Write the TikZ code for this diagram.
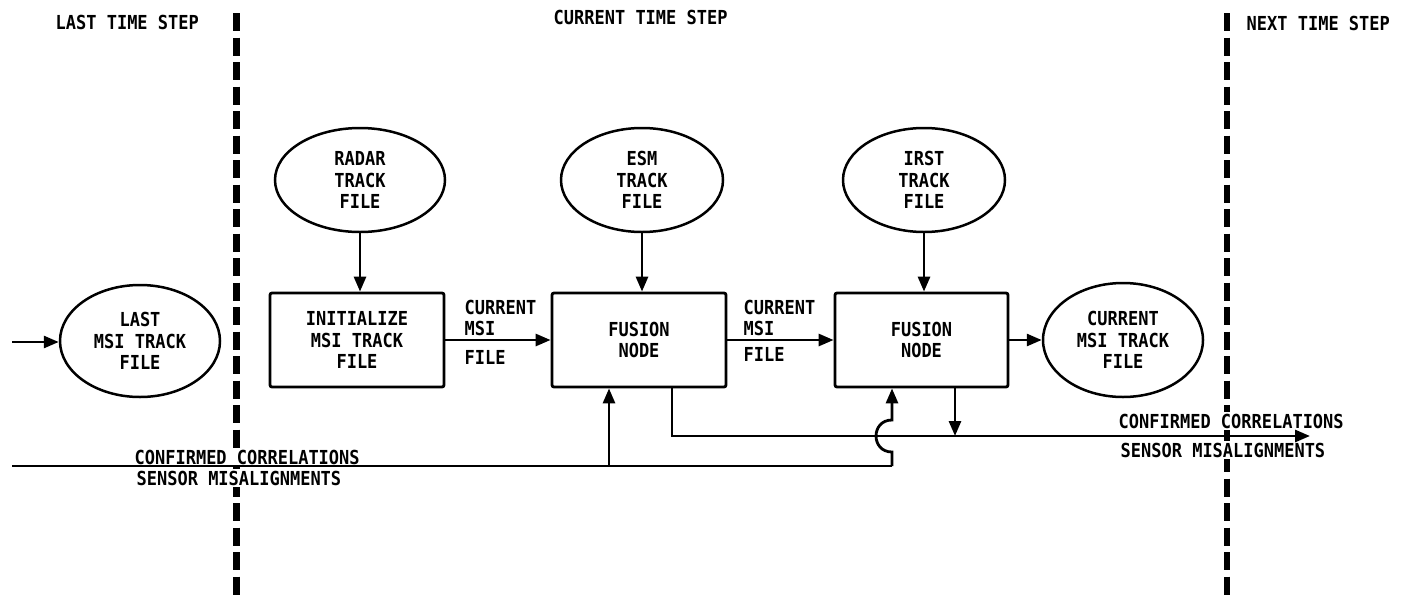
\documentclass[tikz,border=0pt]{standalone}
\usepackage{fontspec}
\setmainfont[FakeStretch=0.88]{DejaVu Sans Mono}
\usetikzlibrary{shapes.geometric,arrows.meta}
\begin{document}
\begin{tikzpicture}[x=1pt,y=-1pt,
  font=\fontsize{19.3}{21.5}\selectfont\bfseries,
  ln/.style={line width=2.8pt},
  arr/.style={ln,-{Triangle[length=15pt,width=12pt]}},
  procbox/.style={draw,line width=2.8pt,rounded corners=2pt,minimum width=174pt,minimum height=94pt,align=center,inner sep=0pt},
  filebub/.style={draw,ellipse,line width=2.5pt,align=center,inner sep=0pt},
  lbl/.style={anchor=west,inner sep=1.5pt},
  wlbl/.style={lbl,fill=white},
  divider/.style={line width=6.5pt,dash pattern=on 18pt off 6.5pt}]
\useasboundingbox (0,0) rectangle (1406,600);
% time step dividers
\coordinate (dlt) at (236.5,13);
\coordinate (dlb) at (236.5,600);
\coordinate (drt) at (1227,13);
\coordinate (drb) at (1227,600);
\draw[divider] (dlt) -- (dlb);
\draw[divider] (drt) -- (drb);
% headings
\node[lbl] (hlast) at (54,22) {LAST TIME STEP};
\node[lbl] (hcur) at (552,17) {CURRENT TIME STEP};
\node[lbl] (hnext) at (1245,23) {NEXT TIME STEP};
% bottom labels
\node[wlbl] (lconf) at (133,457) {CONFIRMED CORRELATIONS};
\node[wlbl] (lsens) at (135,478) {SENSOR MISALIGNMENTS};
\node[wlbl] (rconf) at (1117,421) {CONFIRMED CORRELATIONS};
\node[wlbl] (rsens) at (1119,450) {SENSOR MISALIGNMENTS};
% arrow labels
\node[lbl] (c1a) at (463,307) {CURRENT};
\node[lbl] (c1b) at (463,328) {MSI};
\node[lbl] (c1c) at (463,357) {FILE};
\node[lbl] (c2a) at (742,307) {CURRENT};
\node[lbl] (c2b) at (742,328) {MSI};
\node[lbl] (c2c) at (742,354) {FILE};
% files
\node[filebub,minimum width=160pt,minimum height=112pt] (last) at (140,341) {LAST\\MSI TRACK\\FILE};
\node[filebub,minimum width=170pt,minimum height=104pt] (radar) at (360,180) {RADAR\\TRACK\\FILE};
\node[filebub,minimum width=162pt,minimum height=104pt] (esm) at (642,180) {ESM\\TRACK\\FILE};
\node[filebub,minimum width=162pt,minimum height=104pt] (irst) at (924,180) {IRST\\TRACK\\FILE};
\node[filebub,minimum width=160pt,minimum height=114pt] (cur) at (1123,340) {CURRENT\\MSI TRACK\\FILE};
% processes
\node[procbox] (init) at (357,340) {INITIALIZE\\MSI TRACK\\FILE};
\node[procbox] (fus1) at (639,340) {FUSION\\NODE};
\node[procbox,minimum width=173pt] (fus2) at (921.5,340) {FUSION\\NODE};
% connectors
\coordinate (inL) at (12,342);
\draw[arr] (inL) -- (inL -| last.west);
\draw[arr] (radar) -- (radar |- init.north);
\draw[arr] (esm) -- (esm |- fus1.north);
\draw[arr] (irst) -- (irst |- fus2.north);
\draw[arr] (init.east) -- (fus1.west);
\draw[arr] (fus1.east) -- (fus2.west);
\draw[arr] (fus2.east) -- (cur.west);
% bottom feedback lines
\coordinate (bl) at (12,466);
\coordinate (jr) at (892,466);
\coordinate (ja) at (892,452);
\coordinate (jb) at (892,420);
\coordinate (f1in) at (609,466);
\draw[ln] (bl) -- (jr);
\draw[arr] (jr) -- (ja) .. controls (870.7,452) and (870.7,420) .. (jb) -- (jb |- fus2.south);
\draw[arr] (f1in) -- (f1in |- fus1.south);
\coordinate (bk) at (672,436);
\coordinate (bend) at (1310,436);
\draw[arr] (bk |- fus1.south) -- (bk) -- (bend);
\coordinate (bj) at (955,436);
\draw[arr] (bj |- fus2.south) -- (bj);
\end{tikzpicture}
\end{document}
